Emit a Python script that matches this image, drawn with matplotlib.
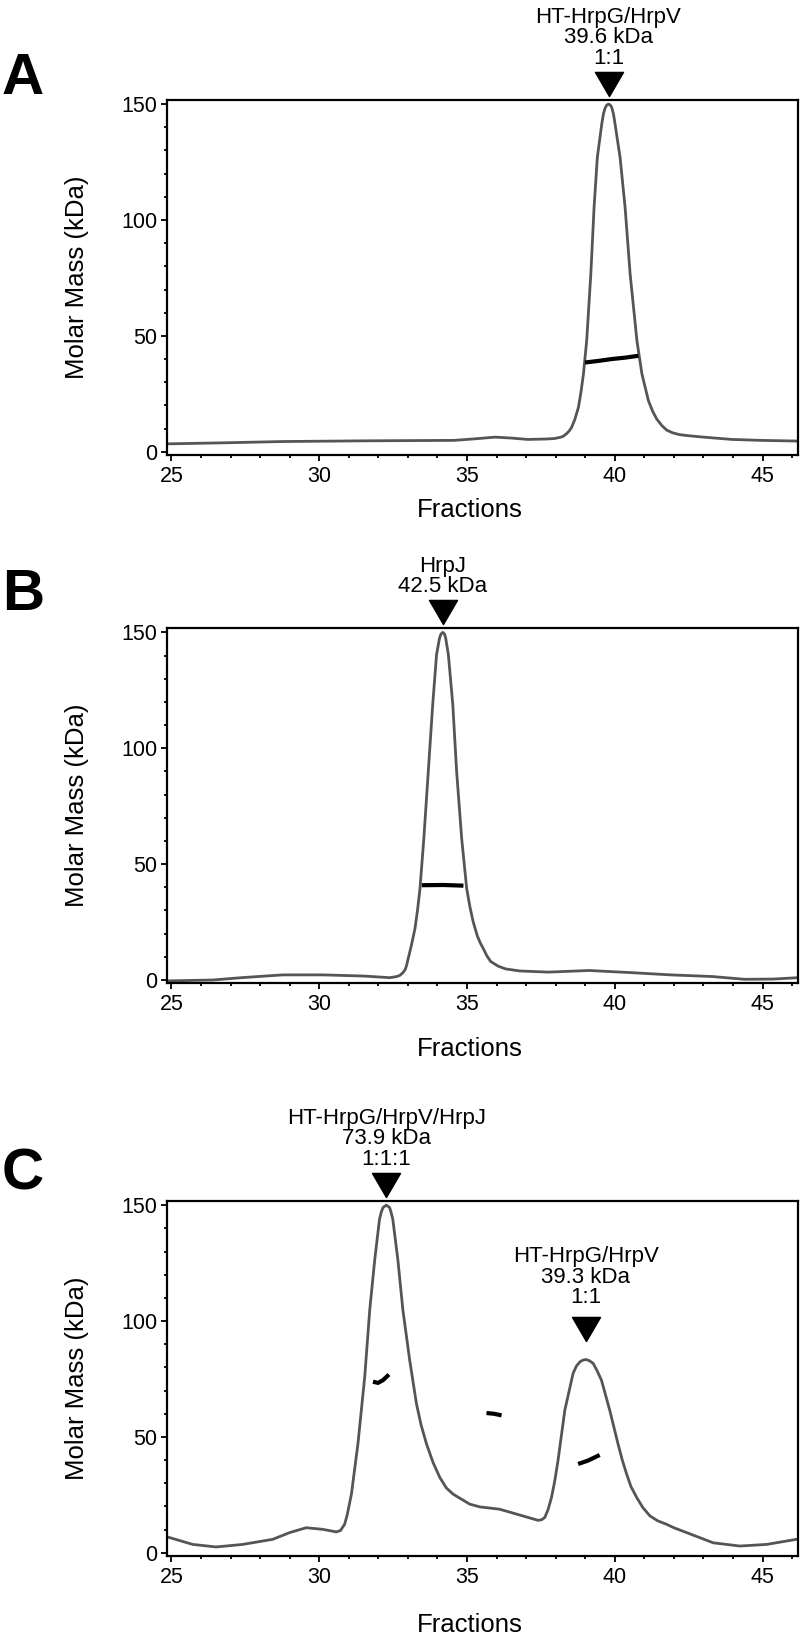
import numpy as np
import matplotlib
matplotlib.use("Agg")
import matplotlib.pyplot as plt
from matplotlib.path import Path
from matplotlib.ticker import MultipleLocator
from matplotlib.transforms import offset_copy

plt.rcParams["font.family"] = ["Liberation Sans", "DejaVu Sans"]

# ---- panel A: HT-HrpG/HrpV ----
frac_a = [24.86, 26.6, 28.76, 31.52, 34.57, 35.3, 35.95, 36.5, 37.06, 37.7, 37.96,
          38.15, 38.25, 38.37, 38.46, 38.54, 38.65, 38.77, 38.86, 38.94, 39.05,
          39.19, 39.30, 39.41, 39.56, 39.62, 39.68, 39.73, 39.79, 39.85, 39.90,
          39.96, 40.01, 40.18, 40.35, 40.52, 40.75, 40.92, 41.14, 41.28, 41.42,
          41.6, 41.76, 41.95, 42.18, 42.5, 43.0, 43.97, 44.95, 46.2]
uv_a = [3.4, 3.8, 4.4, 4.7, 4.9, 5.6, 6.3, 5.9, 5.3, 5.5, 5.7,
        6.2, 6.6, 7.8, 9.0, 10.5, 14.0, 19.1, 26.0, 33.5, 47.9,
        76.7, 105.4, 127.0, 141.4, 146.0, 148.5, 149.6, 150.0, 149.6, 148.5,
        145.5, 141.4, 127.0, 105.4, 76.7, 47.9, 33.5, 22.0, 17.5, 14.1,
        11.2, 9.3, 8.2, 7.4, 6.9, 6.3, 5.3, 4.9, 4.6]
mass_a = [([38.99, 39.45, 39.90, 40.35, 40.80], [38.5, 39.2, 40.0, 40.6, 41.4])]

# ---- panel B: HrpJ ----
frac_b = [24.86, 26.4, 27.37, 28.76, 30.14, 31.52, 32.39, 32.63, 32.73, 32.82, 32.91,
          32.96, 33.01, 33.12, 33.24, 33.33, 33.41, 33.54, 33.69, 33.84, 33.97,
          34.07, 34.12, 34.18, 34.24, 34.28, 34.37, 34.52, 34.65, 34.82, 34.99,
          35.1, 35.21, 35.35, 35.45, 35.55, 35.67, 35.8, 36.05, 36.3, 36.78,
          37.75, 39.13, 40.52, 41.9, 43.29, 44.39, 45.36, 46.2]
uv_b = [-0.4, 0.0, 1.0, 2.2, 2.2, 1.7, 1.0, 1.5, 2.0, 3.0, 4.5,
        6.5, 9.2, 15.0, 22.2, 30.5, 39.5, 61.1, 89.9, 118.8, 140.4,
        147.5, 149.3, 150.0, 149.3, 147.5, 140.4, 118.8, 89.9, 61.1, 39.5,
        31.5, 25.1, 19.0, 16.0, 13.6, 10.5, 8.0, 6.0, 4.8, 3.9,
        3.4, 4.1, 3.2, 2.2, 1.5, 0.3, 0.4, 1.0]
mass_b = [([33.47, 34.2, 34.88], [40.9, 41.0, 40.7])]

# ---- panel C: HT-HrpG/HrpV + HrpJ ----
frac_c = [24.87, 25.72, 26.51, 27.41, 28.43, 29.0, 29.56, 30.12, 30.58, 30.72, 30.86,
          30.95, 31.09, 31.31, 31.54, 31.71, 31.88, 32.04, 32.1, 32.16, 32.27,
          32.38, 32.43, 32.49, 32.66, 32.83, 33.06, 33.29, 33.45, 33.63, 33.85,
          34.08, 34.3, 34.53, 35.09, 35.43, 36.1, 36.78, 37.40, 37.52, 37.63,
          37.74, 37.86, 37.97, 38.08, 38.31, 38.59, 38.7, 38.82, 38.92, 39.02,
          39.14, 39.27, 39.4, 39.55, 39.83, 40.11, 40.25, 40.40, 40.55, 40.74,
          40.95, 41.19, 41.45, 41.75, 42.0, 42.43, 43.33, 44.23, 45.14, 46.15]
uv_c = [6.8, 3.6, 2.5, 3.6, 5.8, 8.7, 10.8, 10.1, 9.0, 9.6, 12.3,
        16.5, 25.3, 47.0, 75.9, 104.9, 126.6, 143.9, 147.0, 149.0, 150.0,
        149.0, 147.0, 143.9, 126.6, 104.9, 83.2, 64.3, 55.0, 47.0, 39.0,
        32.5, 28.0, 25.3, 21.0, 19.8, 18.8, 16.3, 14.0, 14.2, 15.2,
        18.5, 23.9, 31.0, 39.8, 61.5, 77.4, 80.5, 82.4, 83.1, 83.4,
        82.9, 81.7, 78.6, 74.5, 61.5, 47.0, 40.2, 34.0, 28.5, 23.9,
        19.5, 15.9, 13.8, 12.3, 10.8, 8.7, 4.3, 2.9, 3.6, 5.8]
mass_c = [([31.82, 31.99, 32.16, 32.36], [73.8, 73.3, 74.5, 76.9]),
          ([35.66, 35.9, 36.17], [60.3, 60.0, 59.3]),
          ([38.76, 39.1, 39.49], [38.3, 39.8, 42.2])]

# annotations: (label, peak fraction, peak value, extra triangle gap px, extra text gap px)
notes_a = [("HT-HrpG/HrpV\n39.6 kDa\n1:1", 39.79, 150.0, 0, 0)]
notes_b = [("HrpJ\n42.5 kDa", 34.18, 150.0, 0, 0)]
notes_c = [("HT-HrpG/HrpV/HrpJ\n73.9 kDa\n1:1:1", 32.27, 150.0, 0, 0),
           ("HT-HrpG/HrpV\n39.3 kDa\n1:1", 39.02, 83.4, 10, 16)]

# letter, data, axes bottom (fig frac), letter baseline (px from top), xlabel gap (px)
panels = [
    ("A", frac_a, uv_a, mass_a, notes_a, 0.7219, 94.0, 55),
    ("B", frac_b, uv_b, mass_b, notes_b, 0.3990, 610.0, 66),
    ("C", frac_c, uv_c, mass_c, notes_c, 0.0489, 1190.0, 69),
]

W, H = 800, 1636
AX_H = 0.2170
fig = plt.figure(figsize=(W / 100, H / 100), dpi=100)

tri = Path([(-1, 0.86), (1, 0.86), (0, -0.86), (-1, 0.86)],
           [Path.MOVETO, Path.LINETO, Path.LINETO, Path.CLOSEPOLY])

for letter, fr, uv, mass, notes, bottom, letter_y, xl_gap in panels:
    ax = fig.add_axes([167.3 / W, bottom, 630.7 / W, AX_H])
    ax.plot(fr, uv, color="#555555", lw=2.0, solid_joinstyle="round")
    for mx, my in mass:
        ax.plot(mx, my, color="black", lw=3.0, solid_capstyle="butt")

    ax.set_xlim(24.86, 46.2)
    ax.set_ylim(-1.4, 151.8)
    ax.xaxis.set_major_locator(MultipleLocator(5))
    ax.xaxis.set_minor_locator(MultipleLocator(1))
    ax.yaxis.set_major_locator(MultipleLocator(50))
    ax.yaxis.set_minor_locator(MultipleLocator(10))
    ax.tick_params(which="both", direction="out", width=1.3, labelsize=15.5)
    ax.tick_params(which="major", length=4)
    ax.tick_params(which="minor", length=2.3)
    ax.tick_params(axis="x", pad=4)
    ax.tick_params(axis="y", pad=3)
    for sp in ax.spines.values():
        sp.set_linewidth(1.6)

    ax_px = AX_H * H
    ax.set_xlabel("Fractions", fontsize=18.5)
    ax.xaxis.set_label_coords(0.48, -xl_gap / ax_px)
    ax.xaxis.label.set_va("center")
    ax.set_ylabel("Molar Mass (kDa)", fontsize=18.5)
    ax.yaxis.set_label_coords(-0.1438, 0.5)
    ax.yaxis.label.set_va("center")

    fig.text(2 / W, 1 - letter_y / H, letter, fontsize=42, fontweight="bold",
             ha="left", va="baseline")

    for label, px, py, tgap, xgap in notes:
        mtrans = offset_copy(ax.transData, fig=fig, x=0, y=20 + tgap, units="dots")
        ax.plot([px], [py], marker=tri, ms=20.2, color="black", ls="none",
                transform=mtrans, clip_on=False)
        ax.annotate(label, xy=(px, py), xytext=(0, (35 + xgap) / 1.389),
                    textcoords="offset points", ha="center", va="bottom",
                    fontsize=16, linespacing=0.98, annotation_clip=False)

fig.savefig("out.png", dpi=100)
